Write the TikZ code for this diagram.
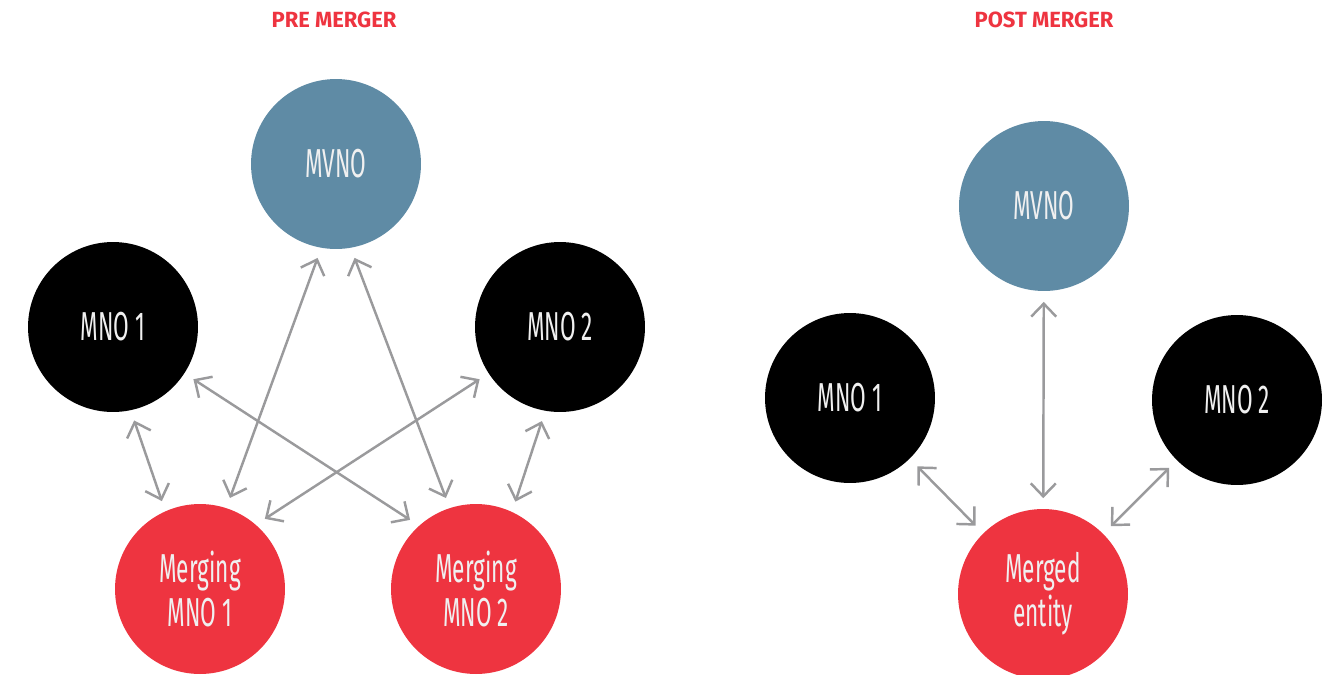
\documentclass[tikz,border=0pt]{standalone}
\usepackage{fontspec}
\setmainfont{Fira Sans}
\newfontfamily\condfont[FakeStretch=0.56]{Fira Sans}
\usetikzlibrary{arrows.meta}
\definecolor{mvnoblue}{HTML}{5F8BA5}
\definecolor{mergered}{HTML}{EE3440}
\definecolor{linkgray}{HTML}{9A9A9C}
\tikzset{
  party/.style={circle, minimum size=3.4cm, inner sep=0pt, text=white!94!black,
    font=\condfont\fontsize{23}{25}\selectfont, align=center},
  link/.style={linkgray, line width=1.4pt, {Straight Barb[length=2.6mm,width=5mm]}-{Straight Barb[length=2.6mm,width=5mm]}, shorten <=6pt, shorten >=6pt},
  headline/.style={text=mergered, font=\bfseries\fontsize{12.5}{14}\selectfont}
}
\begin{document}
\begin{tikzpicture}[x=0.02cm, y=-0.02cm]
        \useasboundingbox (0,0) rectangle (1331,674);
        % pre merger
        \node[headline] (pre) at (334,20) {PRE MERGER};
        \node[party, fill=mvnoblue] (mvnoA) at (336,164) {MVNO};
        \node[party, fill=black] (mnoA) at (113,327) {MNO 1};
        \node[party, fill=black] (mnoB) at (560,327) {MNO 2};
        \node[party, fill=mergered] (mergA) at (200,589) {Merging\\MNO 1};
        \node[party, fill=mergered] (mergB) at (476,589) {Merging\\MNO 2};
        \draw[link] (mvnoA.{-100}) -- (mergA.{72});
        \draw[link] (mvnoA.{-80}) -- (mergB.{108});
        \draw[link] (mnoA.{-78}) -- (mergA.{114});
        \draw[link] (mnoA.{-33}) -- (mergB.{132});
        \draw[link] (mnoB.{-147}) -- (mergA.{49});
        \draw[link] (mnoB.{-100}) -- (mergB.{65});
        % post merger
        \node[headline] (post) at (1044,20) {POST MERGER};
        \node[party, fill=mvnoblue] (mvnoC) at (1044,206) {MVNO};
        \node[party, fill=black] (mnoC) at (850,398) {MNO 1};
        \node[party, fill=black] (mnoD) at (1237,400) {MNO 2};
        \node[party, fill=mergered] (merged) at (1043,594) {Merged\\entity};
        \draw[link] (mvnoC) -- (merged);
        \draw[link] (mnoC) -- (merged);
        \draw[link] (mnoD) -- (merged);
\end{tikzpicture}
\end{document}
